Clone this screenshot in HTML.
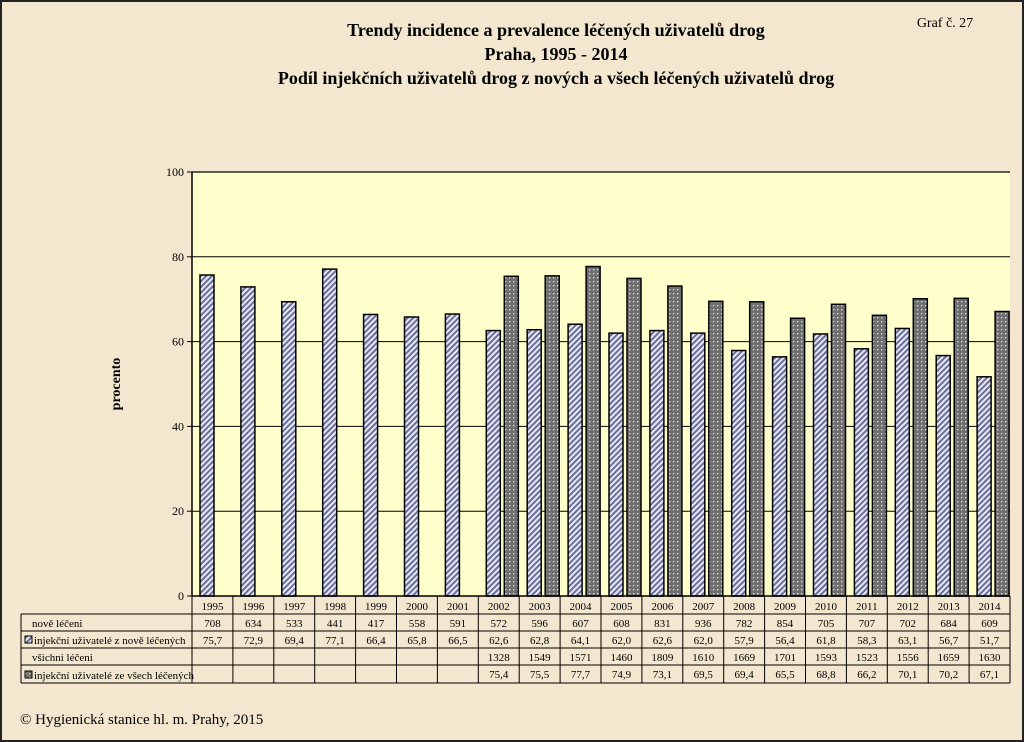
<!DOCTYPE html>
<html><head><meta charset="utf-8">
<style>
html,body{margin:0;padding:0;}
body{width:1024px;height:742px;overflow:hidden;background:#f4e7cf;font-family:"Liberation Serif",serif;}
svg{display:block}
</style></head>
<body>
<svg id="chart" width="1024" height="742" xmlns="http://www.w3.org/2000/svg">
<defs>
<pattern id="hatch" width="4" height="4" patternUnits="userSpaceOnUse" patternTransform="rotate(45)">
<rect width="4" height="4" fill="#e8e8f4"/><rect width="2" height="4" fill="#6a6f9a"/></pattern>
<pattern id="dots" width="4" height="4" patternUnits="userSpaceOnUse">
<rect width="4" height="4" fill="#707070"/><rect x="1" y="1" width="1.3" height="1.3" fill="#e0e0e0"/></pattern>
</defs>
<rect x="1" y="1" width="1022" height="740" fill="#f4e7cf" stroke="#222" stroke-width="2"/>
<text x="556" y="36" text-anchor="middle" font-size="18" font-weight="bold">Trendy incidence a prevalence léčených uživatelů drog</text>
<text x="556" y="60" text-anchor="middle" font-size="18" font-weight="bold">Praha, 1995 - 2014</text>
<text x="556" y="84" text-anchor="middle" font-size="18" font-weight="bold">Podíl injekčních uživatelů drog z nových a všech léčených uživatelů drog</text>
<text x="945" y="27" text-anchor="middle" font-size="14">Graf č. 27</text>
<text x="20" y="724" font-size="15">© Hygienická  stanice hl. m. Prahy, 2015</text>
<text transform="translate(120,384) rotate(-90)" text-anchor="middle" font-size="14" font-weight="bold">procento</text>
<g id="g"></g>
</svg>
<script>
const years=["1995","1996","1997","1998","1999","2000","2001","2002","2003","2004","2005","2006","2007","2008","2009","2010","2011","2012","2013","2014"];
const newTreated=["708","634","533","441","417","558","591","572","596","607","608","831","936","782","854","705","707","702","684","609"];
const injNew=[75.7,72.9,69.4,77.1,66.4,65.8,66.5,62.6,62.8,64.1,62.0,62.6,62.0,57.9,56.4,61.8,58.3,63.1,56.7,51.7];
const allTreated=["","","","","","","","1328","1549","1571","1460","1809","1610","1669","1701","1593","1523","1556","1659","1630"];
const injAll=[null,null,null,null,null,null,null,75.4,75.5,77.7,74.9,73.1,69.5,69.4,65.5,68.8,66.2,70.1,70.2,67.1];
const yTicks=[0,20,40,60,80,100];
const rowLabels=["nově léčeni","injekční uživatelé z nově léčených","všichni léčeni","injekční uživatelé ze všech léčených"];

const NS="http://www.w3.org/2000/svg";
const g=document.getElementById('g');
const X0=192,X1=1010,Y0=596,Y1=172;
const cw=(X1-X0)/years.length;
const y=v=>Y0-(v/100)*(Y0-Y1);
const xc=i=>X0+i*cw;
function mk(t,a,txt){const e=document.createElementNS(NS,t);for(const k in a)e.setAttribute(k,a[k]);if(txt!==undefined)e.textContent=txt;g.appendChild(e);return e;}
const fmt=v=>v.toFixed(1).replace('.',',');

let e=mk('rect',{x:X0,y:Y1,width:X1-X0,height:Y0-Y1,fill:'#ffffcc',stroke:'none'});


yTicks.forEach(t=>{
  if(t>0&&t<100){e=mk('line',{x1:X0,x2:X1,y1:y(t),y2:y(t),stroke:'#000','stroke-width':1});
  
  }
  e=mk('line',{x1:X0-5,x2:X0,y1:y(t),y2:y(t),stroke:'#000','stroke-width':1});
  
  
  e=mk('text',{x:X0-8,y:y(t)+4,'text-anchor':'end','font-size':12},String(t));
  
  
});
e=mk('line',{x1:X1,x2:X0,y1:Y1,y2:Y1,stroke:'#000','stroke-width':1.2});


e=mk('line',{x1:X0,x2:X0,y1:Y1,y2:Y0,stroke:'#000','stroke-width':1.5});



years.forEach((yr,i)=>{
  const bw=14;
  e=mk('rect',{x:xc(i)+8,y:y(injNew[i]),width:bw,height:Y0-y(injNew[i]),fill:'url(#hatch)',stroke:'#000','stroke-width':1.5});
  
  
  if(injAll[i]!=null){
    e=mk('rect',{x:xc(i)+26,y:y(injAll[i]),width:bw,height:Y0-y(injAll[i]),fill:'url(#dots)',stroke:'#000','stroke-width':1.5});
    
    
  }
});

// table
const TL=21, rows=[597,614,631,648,665,683];
e=mk('line',{x1:X0,x2:X1,y1:Y0,y2:Y0,stroke:'#000','stroke-width':1.5});


for(let r=1;r<rows.length;r++){
  e=mk('line',{x1:TL,x2:X1,y1:rows[r],y2:rows[r],stroke:'#000','stroke-width':1});
  
  
}
e=mk('line',{x1:TL,x2:TL,y1:rows[1],y2:rows[5],stroke:'#000','stroke-width':1});


for(let i=0;i<=years.length;i++){
  e=mk('line',{x1:xc(i),x2:xc(i),y1:Y0,y2:rows[5],stroke:'#000','stroke-width':1});
  
  
}
years.forEach((yr,i)=>{
  const cx=xc(i)+cw/2;
  const vals=[yr,newTreated[i],fmt(injNew[i]),allTreated[i],injAll[i]!=null?fmt(injAll[i]):""];
  vals.forEach((v,r)=>{
    if(!v)return;
    e=mk('text',{x:cx,y:rows[r]+13,'text-anchor':'middle','font-size':11},v);
    
    
  });
});
rowLabels.forEach((l,r)=>{
  const hasKey=(r===1||r===3);
  const top=rows[r+1], bot=rows[r+2];
  if(hasKey){
    e=mk('rect',{x:TL+4,y:bot-12,width:7,height:7,fill:r===1?'url(#hatch)':'url(#dots)',stroke:'#000','stroke-width':1});
    
    
  }
  e=mk('text',{x:hasKey?TL+13:TL+11,y:bot-4,'font-size':11},l);
  
  
});
</script>
</body></html>
